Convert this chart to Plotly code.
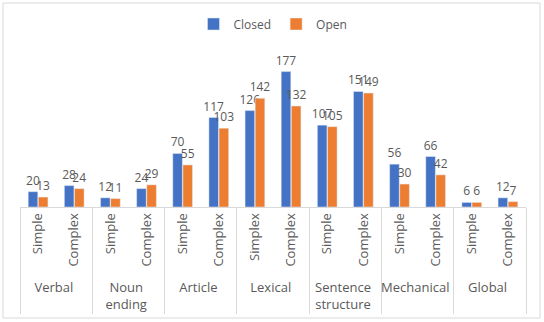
import plotly.graph_objects as go

groups = ["Verbal", "Noun<br>ending", "Article", "Lexical", "Sentence<br>structure", "Mechanical", "Global"]
# "\u200b" keeps the Lexical sub-labels in the reference's order (Simplex, Complex)
subs = [["Simple", "Complex"], ["Simple", "Complex"], ["Simple", "Complex"], ["Simplex", "Complex\u200b"],
        ["Simple", "Complex"], ["Simple", "Complex"], ["Simple", "Complex"]]
closed = [20, 28, 12, 24, 70, 117, 126, 177, 107, 151, 56, 66, 6, 12]
open_ = [13, 24, 11, 29, 55, 103, 142, 132, 105, 149, 30, 42, 6, 7]

lvl0 = [g for g, s in zip(groups, subs) for _ in s]
lvl1 = [x for s in subs for x in s]

fig = go.Figure()
fig.add_trace(go.Bar(x=[lvl0, lvl1], y=closed, name="Closed", marker_color="#4472C4",
                     text=closed, textposition="outside", cliponaxis=False, constraintext="none",
                     textfont=dict(color="#595959", size=12)))
fig.add_trace(go.Bar(x=[lvl0, lvl1], y=open_, name="Open", marker_color="#ED7D31",
                     text=open_, textposition="outside", cliponaxis=False, constraintext="none",
                     textfont=dict(color="#595959", size=12)))

fig.update_layout(
    width=544, height=322,
    margin=dict(l=20, r=18, t=54, b=115, autoexpand=False),
    paper_bgcolor="white", plot_bgcolor="white",
    font=dict(family="Open Sans", color="#595959", size=13),
    barmode="group", bargap=0.44, bargroupgap=0.05,
    showlegend=True,
    legend=dict(orientation="h", x=0.5, xanchor="center", y=1.196, yanchor="middle",
                font=dict(size=12, color="#595959"), itemwidth=30, tracegroupgap=0),
    xaxis=dict(type="multicategory", tickangle=-90, showline=True, linecolor="#D9D9D9",
               showdividers=True, dividercolor="#D9D9D9", dividerwidth=1,
               tickfont=dict(size=13, color="#595959"), automargin=False, ticks=""),
    yaxis=dict(range=[0, 200], visible=False, showgrid=False),
    shapes=[dict(type="rect", xref="paper", yref="paper",
                 x0=(3 - 20) / 506, x1=(540 - 20) / 506,
                 y0=(207 - 318) / 153, y1=(207 - 3) / 153,
                 line=dict(color="#D9D9D9", width=1))],
)

fig.write_html("out.html")
